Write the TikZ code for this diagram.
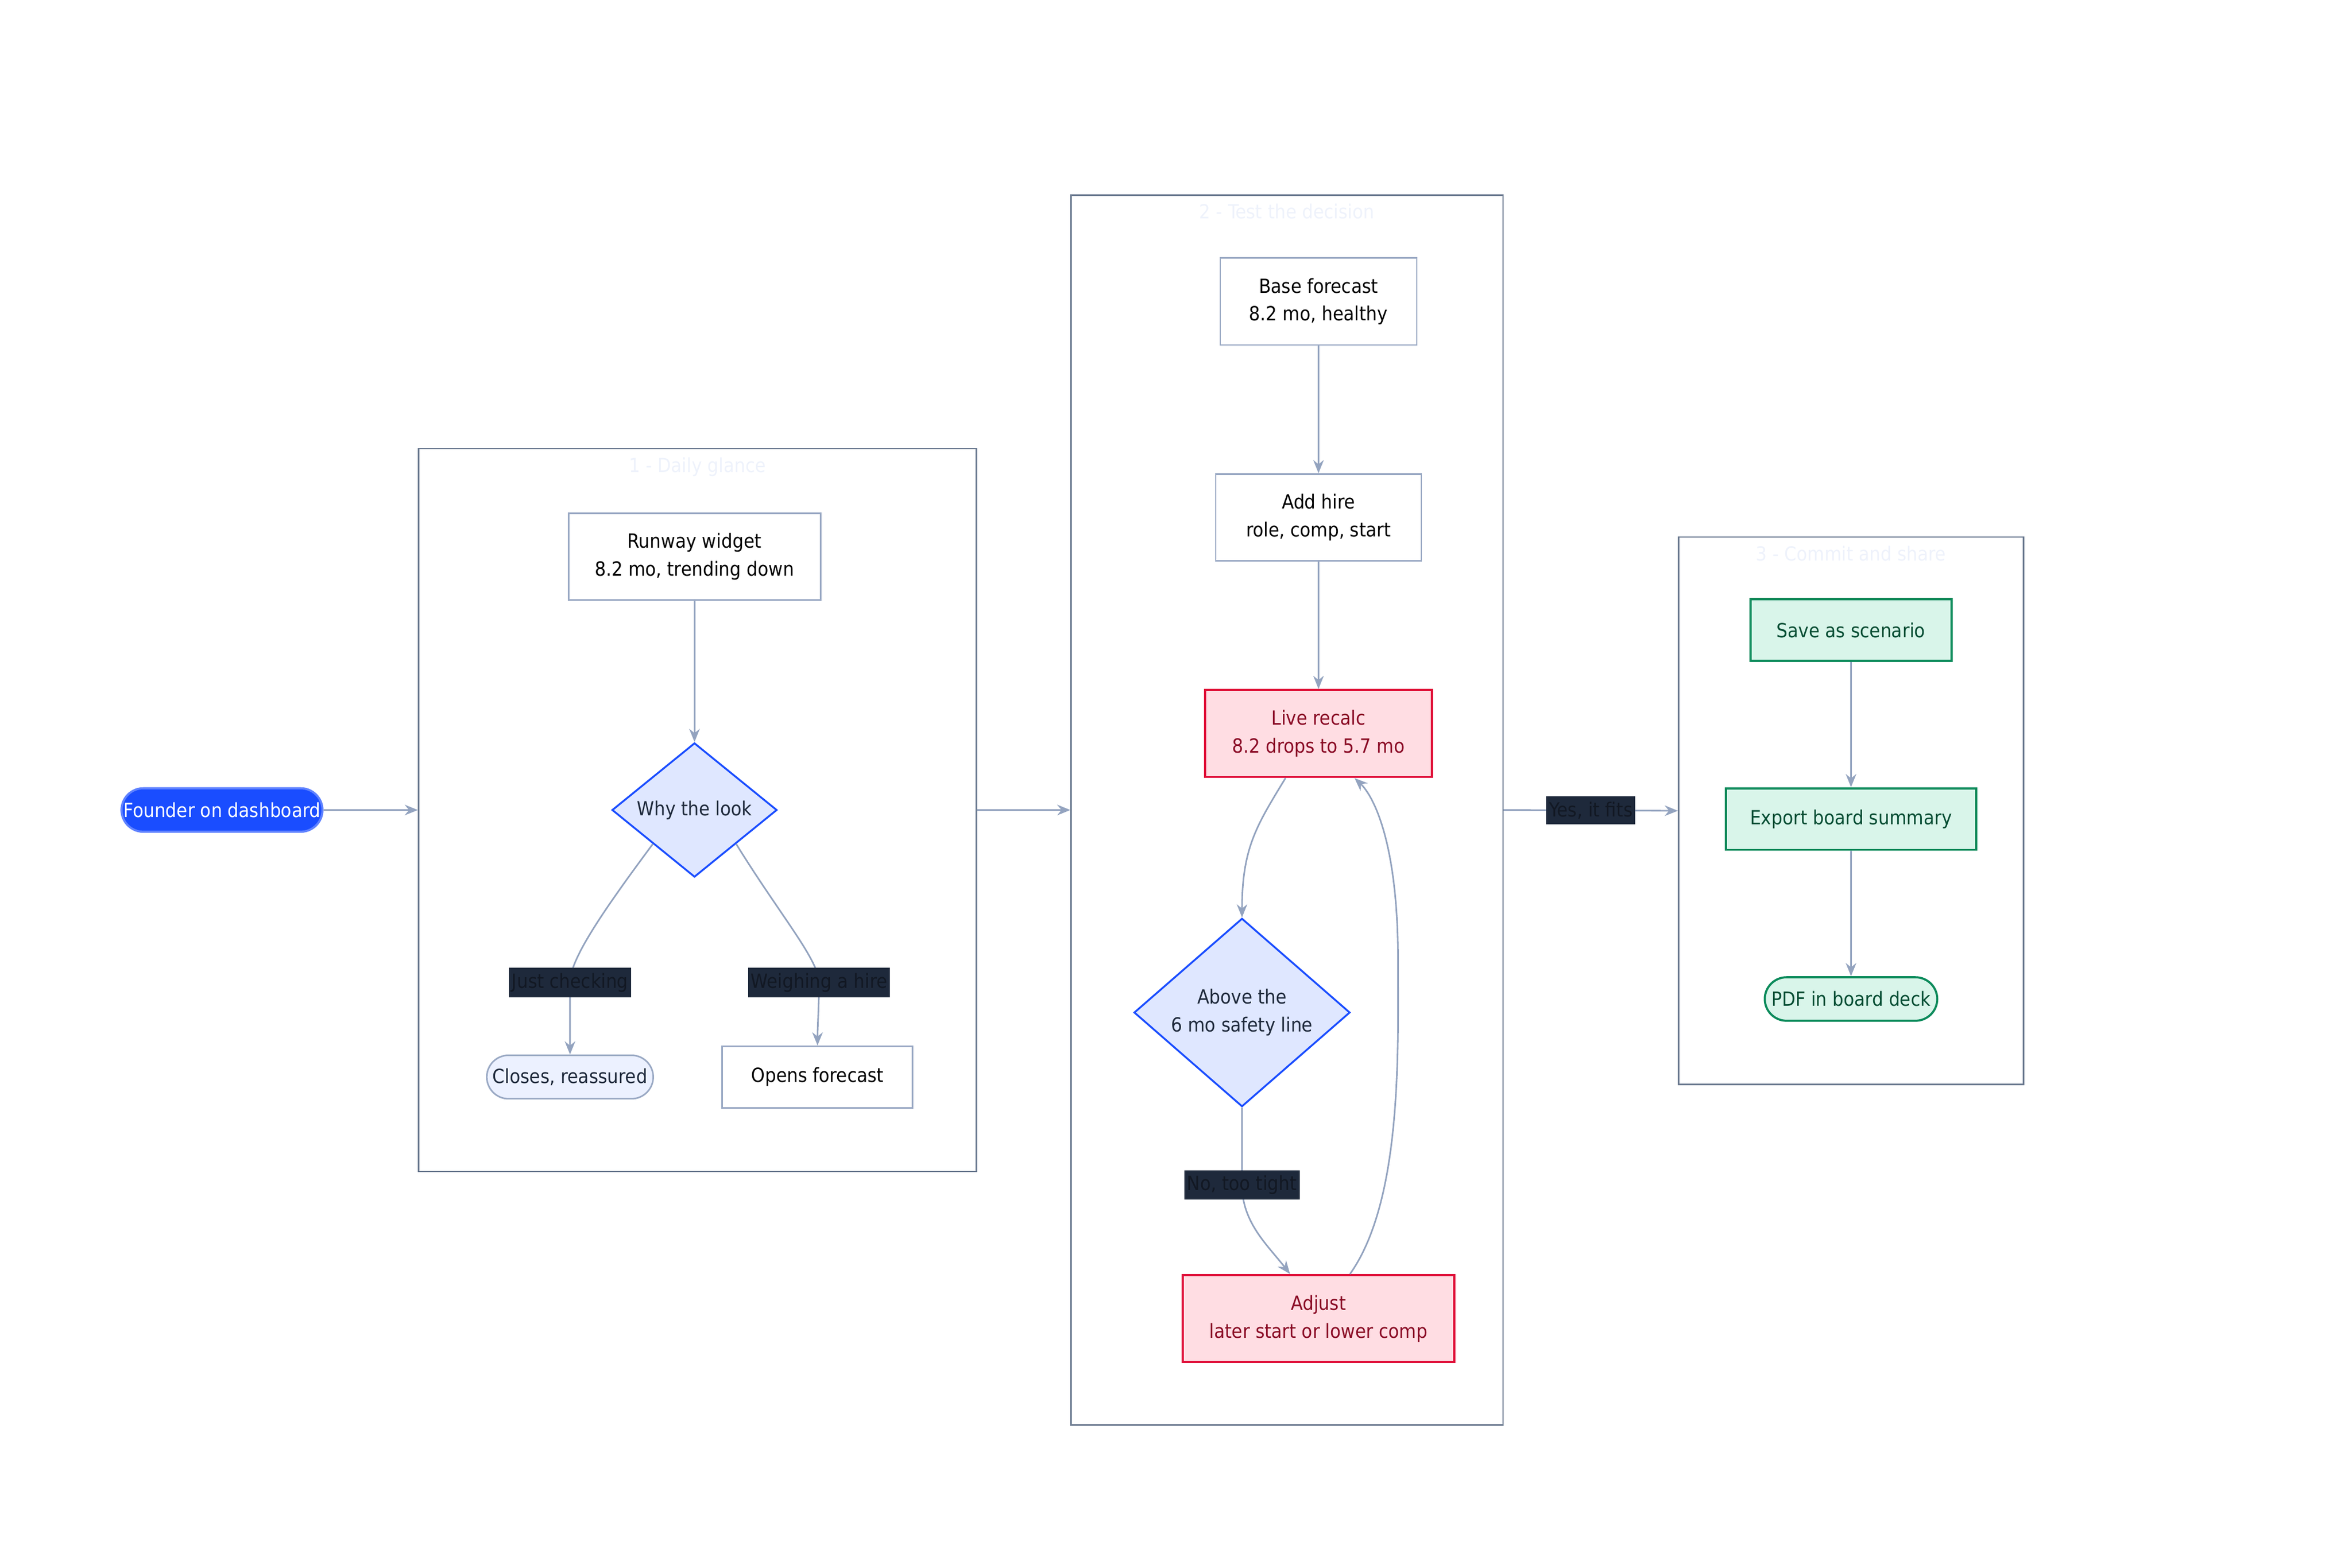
\documentclass[tikz,border=0pt]{standalone}
\usepackage{fontspec}
\setmainfont{DejaVu Sans Condensed}
\usetikzlibrary{shapes, arrows.meta, positioning}
\definecolor{edgec}{HTML}{93A3BF}
\definecolor{clusterc}{HTML}{6B7A90}
\definecolor{boxc}{HTML}{9AA9C4}
\definecolor{navy}{HTML}{1E293B}
\definecolor{bluef}{HTML}{DFE7FF}
\definecolor{bluec}{HTML}{1A4DFF}
\definecolor{redf}{HTML}{FFDDE3}
\definecolor{redc}{HTML}{E0103A}
\definecolor{redt}{HTML}{8A0A25}
\definecolor{greenf}{HTML}{D9F5EA}
\definecolor{greenc}{HTML}{0A8A5A}
\definecolor{greent}{HTML}{064D33}
\definecolor{titlec}{HTML}{EEF2FB}
\begin{document}
\begin{tikzpicture}[
            x=0.02cm, y=-0.02cm,
            font=\fontsize{7.4}{10.6}\selectfont,
            every node/.style={align=center, inner sep=0pt},
            cluster/.style={rectangle, draw=clusterc, line width=0.5pt},
            ctitle/.style={text=titlec},
            plain/.style={rectangle, draw=boxc, fill=white, line width=0.6pt, minimum height=1.16cm},
            pill/.style={rounded rectangle, draw=boxc, fill=bluef!60, line width=0.6pt, minimum height=0.58cm, text=navy},
            ask/.style={diamond, aspect=1, draw=bluec, fill=bluef, line width=0.7pt, text=navy},
            alert/.style={rectangle, draw=redc, fill=redf, line width=0.8pt, minimum height=1.16cm, text=redt},
            done/.style={rectangle, draw=greenc, fill=greenf, line width=0.8pt, minimum height=0.82cm, text=greent},
            elabel/.style={fill=navy, text=navy!60!black, inner xsep=1pt, inner ysep=2pt},
            link/.style={draw=edgec, line width=0.6pt, -{Stealth[length=5pt, width=4pt]}}
        ]
        \useasboundingbox (0,0) rectangle (1568,1045);

        % Subgraphs
        \node[cluster, minimum width=7.44cm, minimum height=9.64cm] (glance) at (465,540) {};
        \node[ctitle, below=0.12cm of glance.north] {1 - Daily glance};
        \node[cluster, minimum width=5.76cm, minimum height=16.4cm] (test) at (858,540) {};
        \node[ctitle, below=0.12cm of test.north] {2 - Test the decision};
        \node[cluster, minimum width=4.6cm, minimum height=7.3cm] (commit) at (1234,540.5) {};
        \node[ctitle, below=0.12cm of commit.north] {3 - Commit and share};

        % Start
        \node[rounded rectangle, draw=bluec!70, fill=bluec, text=white, line width=0.8pt,
              minimum width=2.68cm, minimum height=0.58cm] (founder) at (148,540) {Founder on dashboard};

        % Daily glance
        \node[plain, minimum width=3.36cm] (widget) at (463,371) {Runway widget\\8.2 mo, trending down};
        \node[ask, minimum width=2.2cm] (why) at (463,540) {Why the look};
        \node[pill, minimum width=2.22cm] (closes) at (380,718) {Closes, reassured};
        \node[plain, minimum width=2.54cm, minimum height=0.82cm] (opens) at (545,718) {Opens forecast};

        % Test the decision
        \node[plain, minimum width=2.62cm] (base) at (879,201) {Base forecast\\8.2 mo, healthy};
        \node[plain, minimum width=2.74cm] (addhire) at (879,345) {Add hire\\role, comp, start};
        \node[alert, minimum width=3.02cm] (recalc) at (879,489) {Live recalc\\8.2 drops to 5.7 mo};
        \node[ask, minimum width=2.88cm] (safety) at (828,675) {Above the\\6 mo safety line};
        \node[alert, minimum width=3.62cm] (adjust) at (879,879) {Adjust\\later start or lower comp};

        % Commit and share
        \node[done, minimum width=2.68cm] (save) at (1234,420) {Save as scenario};
        \node[done, minimum width=3.34cm] (export) at (1234,546) {Export board summary};
        \node[rounded rectangle, draw=greenc, fill=greenf, text=greent, line width=0.8pt,
              minimum width=2.3cm, minimum height=0.58cm] (pdf) at (1234,666) {PDF in board deck};

        % Flow between stages
        \draw[link] (founder) -- (glance.west);
        \draw[link] (glance.east) -- (test.west);
        \draw[link] (test.east) -- node[elabel] {Yes, it fits} (commit.west);

        % Daily glance edges
        \draw[link] (widget) -- (why);
        \draw[link] (why.south west) .. controls (400,610) and (380,640) .. (380,655)
            node[elabel] {Just checking} .. controls (380,670) and (380,690) .. (closes.north);
        \draw[link] (why.south east) .. controls (520,610) and (546,640) .. (546,655)
            node[elabel] {Weighing a hire} .. controls (546,670) and (545,685) .. (opens.north);

        % Test edges
        \draw[link] (base) -- (addhire);
        \draw[link] (addhire) -- (recalc);
        \draw[link] (recalc.south) ++(-22,0) coordinate (rout)
            .. controls (838,550) and (828,565) .. (safety.north);
        \draw[link] (safety.south) -- (828,790) node[elabel] {No, too tight}
            .. controls (828,815) and (845,830) .. ([xshift=-0.38cm]adjust.north);
        \draw[link] ([xshift=0.42cm]adjust.north) .. controls (935,800) and (932,700) .. (932,640)
            .. controls (932,560) and (915,530) .. ([xshift=0.48cm]recalc.south);

        % Commit edges
        \draw[link] (save) -- (export);
        \draw[link] (export) -- (pdf);
    \end{tikzpicture}
\end{document}
